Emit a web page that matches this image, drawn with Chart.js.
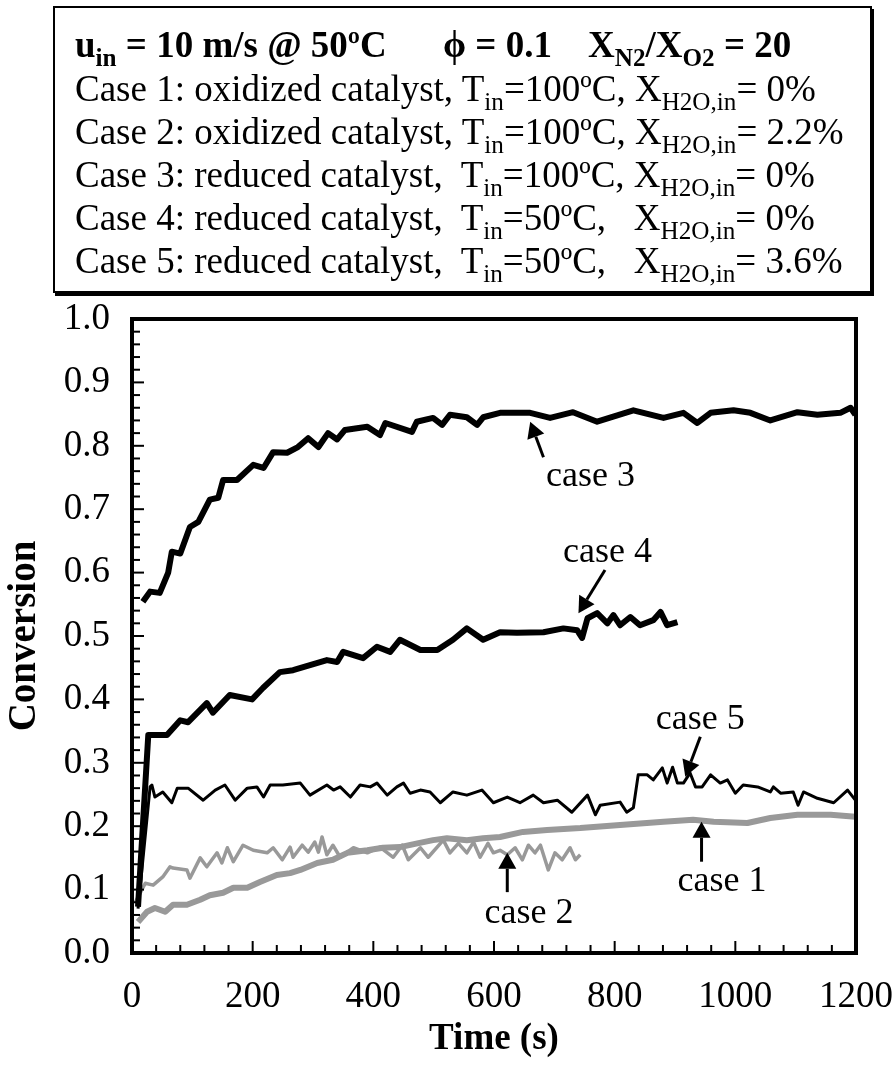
<!DOCTYPE html>
<html>
<head>
<meta charset="utf-8">
<script src="https://cdn.jsdelivr.net/npm/chart.js@4/dist/chart.umd.min.js"></script>
<style>
  body { margin: 0; background: #fff; width: 895px; height: 1066px; overflow: hidden; position: relative;
         font-family: "Liberation Serif", "Times New Roman", serif; }
  #wrap { position: absolute; left: 0; top: 0; width: 895px; height: 1066px; }
  #box { position: absolute; left: 53px; top: 6px; width: 815px; height: 283px; border: 2px solid #000;
         box-shadow: 2px 3px 0 #000; background: #fff; z-index: 2; }
  .ln { position: absolute; font-size: 37px; white-space: pre; line-height: 1; }
  sub { font-size: 0.68em; vertical-align: -0.34em; line-height: 0; }
</style>
</head>
<body>
<div id="box">
  <div class="ln" style="left:20px;top:18px"><b>u<sub>in</sub> = 10 m/s @ 50ºC</b></div>
  <div class="ln" style="left:388px;top:18px"><b>ϕ = 0.1</b></div>
  <div class="ln" style="left:533px;top:18px"><b>X<sub>N2</sub>/X<sub>O2</sub> = 20</b></div>
  <div class="ln" style="left:20px;top:62px">Case 1: oxidized catalyst, T<sub>in</sub>=100ºC, X<sub>H2O,in</sub>= 0%</div>
  <div class="ln" style="left:20px;top:105px">Case 2: oxidized catalyst, T<sub>in</sub>=100ºC, X<sub>H2O,in</sub>= 2.2%</div>
  <div class="ln" style="left:20px;top:148px">Case 3: reduced catalyst,  T<sub>in</sub>=100ºC, X<sub>H2O,in</sub>= 0%</div>
  <div class="ln" style="left:20px;top:191px">Case 4: reduced catalyst,  T<sub>in</sub>=50ºC,   X<sub>H2O,in</sub>= 0%</div>
  <div class="ln" style="left:20px;top:234px">Case 5: reduced catalyst,  T<sub>in</sub>=50ºC,   X<sub>H2O,in</sub>= 3.6%</div>
</div>
<div id="wrap"><canvas id="conv"></canvas></div>
<script>
// time (s) and conversion for each case
const case1Time = [10,25,38,55,68,91,113,129,151,168,191,212,240,262,279,307,333,357,390,416,444,473,499,522,555,582,610,648,688,743,809,881,930,964,1020,1058,1103,1158,1199];
const case1Conv = [0.049,0.065,0.071,0.065,0.076,0.076,0.084,0.091,0.095,0.103,0.103,0.112,0.123,0.126,0.131,0.142,0.147,0.158,0.162,0.166,0.167,0.173,0.178,0.181,0.178,0.181,0.183,0.191,0.194,0.197,0.202,0.207,0.21,0.207,0.205,0.213,0.218,0.218,0.215];

const case2Time = [5,22,35,51,63,68,91,96,113,124,141,149,158,168,184,201,224,234,249,262,267,282,292,303,309,315,323,333,345,367,390,411,433,448,458,478,491,516,527,541,555,566,577,590,599,610,622,635,647,657,668,677,690,701,713,726,735,743];
const case2Conv = [0.079,0.11,0.107,0.12,0.136,0.134,0.131,0.118,0.15,0.136,0.158,0.142,0.166,0.144,0.17,0.162,0.158,0.166,0.147,0.167,0.151,0.17,0.159,0.175,0.159,0.183,0.155,0.17,0.151,0.166,0.158,0.167,0.151,0.17,0.147,0.166,0.151,0.178,0.158,0.173,0.158,0.175,0.151,0.173,0.158,0.162,0.155,0.166,0.147,0.17,0.158,0.17,0.131,0.158,0.147,0.166,0.147,0.155];

const case3Time = [18,30,46,60,66,80,96,110,129,143,151,174,201,218,234,257,275,292,309,325,340,353,390,411,420,464,472,499,514,527,555,572,582,610,660,693,731,771,831,881,914,937,959,997,1025,1058,1103,1136,1174,1191,1199];
const case3Conv = [0.554,0.57,0.568,0.60,0.633,0.63,0.672,0.68,0.715,0.718,0.746,0.746,0.77,0.765,0.79,0.789,0.798,0.812,0.798,0.82,0.81,0.825,0.83,0.817,0.836,0.822,0.838,0.844,0.833,0.849,0.845,0.833,0.845,0.852,0.852,0.844,0.853,0.838,0.856,0.844,0.852,0.836,0.852,0.856,0.852,0.84,0.853,0.849,0.852,0.86,0.849];

const case4Time = [10,27,58,80,93,124,134,162,199,217,245,267,323,340,350,383,406,428,444,478,506,532,555,582,610,638,682,715,738,746,755,771,788,798,809,826,842,864,876,887,904];
const case4Conv = [0.073,0.344,0.344,0.367,0.364,0.394,0.379,0.407,0.40,0.418,0.443,0.446,0.462,0.459,0.475,0.465,0.483,0.475,0.494,0.478,0.478,0.494,0.512,0.494,0.506,0.505,0.506,0.512,0.509,0.497,0.528,0.536,0.52,0.533,0.517,0.53,0.517,0.525,0.538,0.517,0.522];

const case5Time = [10,30,33,38,51,66,75,93,118,138,154,171,191,207,218,229,250,279,295,323,334,345,362,378,395,406,423,439,450,461,478,494,511,532,555,580,599,622,643,665,682,705,729,755,768,776,809,820,831,839,854,864,879,887,896,904,914,925,934,945,959,975,987,1000,1013,1037,1058,1063,1075,1096,1104,1113,1136,1163,1186,1199];
const case5Conv = [0.07,0.262,0.265,0.246,0.254,0.237,0.26,0.26,0.241,0.257,0.265,0.241,0.26,0.262,0.246,0.265,0.265,0.268,0.249,0.265,0.257,0.262,0.246,0.265,0.262,0.268,0.249,0.262,0.268,0.252,0.257,0.254,0.237,0.254,0.249,0.257,0.237,0.246,0.237,0.249,0.237,0.241,0.222,0.249,0.218,0.233,0.238,0.222,0.229,0.281,0.281,0.273,0.292,0.268,0.293,0.268,0.268,0.284,0.262,0.262,0.281,0.268,0.273,0.252,0.265,0.262,0.254,0.262,0.252,0.254,0.233,0.254,0.244,0.237,0.257,0.241];

// "case n" call-outs: label centre, arrow tail, arrow head (time, conversion)
const callouts = [
  { text: 'case 3', at: [760, 0.752], from: [682, 0.782], to: [660, 0.838] },
  { text: 'case 4', at: [788, 0.632], from: [784, 0.604], to: [740, 0.536] },
  { text: 'case 5', at: [942, 0.368], from: [942, 0.341], to: [917, 0.278] },
  { text: 'case 1', at: [978, 0.113], from: [944, 0.144], to: [944, 0.207] },
  { text: 'case 2', at: [658, 0.062], from: [622, 0.096], to: [622, 0.158] }
];

const pts = (t, c) => t.map((v, i) => ({ x: v, y: c[i] }));
const GRAY = '#999999';
const SERIF = '"Liberation Serif", "Times New Roman", serif';

// frame and inward tick marks
const frame = {
  id: 'frame',
  afterDatasetsDraw(chart) {
    const { ctx, chartArea: a, scales: { x, y } } = chart;
    ctx.save();
    ctx.strokeStyle = '#000';
    ctx.lineWidth = 2;
    for (let v = 0; v <= 1200; v += 40) {
      const px = x.getPixelForValue(v);
      const len = v % 200 === 0 ? 12 : 8;
      ctx.beginPath(); ctx.moveTo(px, a.bottom); ctx.lineTo(px, a.bottom - len); ctx.stroke();
    }
    for (let i = 0; i <= 50; i++) {
      const py = y.getPixelForValue(i * 0.02);
      const len = i % 5 === 0 ? 12 : 8;
      ctx.beginPath(); ctx.moveTo(a.left, py); ctx.lineTo(a.left + len, py); ctx.stroke();
    }
    ctx.lineWidth = 4;
    ctx.strokeRect(a.left, a.top, a.width, a.height);
    ctx.restore();
  }
};

const arrows = {
  id: 'arrows',
  afterDraw(chart) {
    const { ctx, scales: { x, y } } = chart;
    ctx.save();
    ctx.fillStyle = '#000';
    ctx.strokeStyle = '#000';
    ctx.font = '36px ' + SERIF;
    ctx.textAlign = 'center';
    ctx.textBaseline = 'middle';
    callouts.forEach(c => {
      ctx.fillText(c.text, x.getPixelForValue(c.at[0]), y.getPixelForValue(c.at[1]));
      const x1 = x.getPixelForValue(c.from[0]), y1 = y.getPixelForValue(c.from[1]);
      const x2 = x.getPixelForValue(c.to[0]), y2 = y.getPixelForValue(c.to[1]);
      const ang = Math.atan2(y2 - y1, x2 - x1);
      const hl = 16, hw = 9;
      const bx = x2 - hl * Math.cos(ang), by = y2 - hl * Math.sin(ang);
      ctx.lineWidth = 3;
      ctx.beginPath(); ctx.moveTo(x1, y1); ctx.lineTo(bx, by); ctx.stroke();
      ctx.beginPath();
      ctx.moveTo(x2, y2);
      ctx.lineTo(bx + hw * Math.sin(ang), by - hw * Math.cos(ang));
      ctx.lineTo(bx - hw * Math.sin(ang), by + hw * Math.cos(ang));
      ctx.closePath(); ctx.fill();
    });
    ctx.restore();
  }
};

new Chart(document.getElementById('conv'), {
  type: 'line',
  data: {
    datasets: [
      { label: 'case 3', data: pts(case3Time, case3Conv), borderColor: '#000', borderWidth: 6 },
      { label: 'case 4', data: pts(case4Time, case4Conv), borderColor: '#000', borderWidth: 6 },
      { label: 'case 5', data: pts(case5Time, case5Conv), borderColor: '#000', borderWidth: 3 },
      { label: 'case 1', data: pts(case1Time, case1Conv), borderColor: GRAY, borderWidth: 6 },
      { label: 'case 2', data: pts(case2Time, case2Conv), borderColor: GRAY, borderWidth: 3.5 }
    ]
  },
  options: {
    responsive: true,
    maintainAspectRatio: false,
    animation: false,
    elements: { point: { radius: 0 }, line: { tension: 0, borderJoinStyle: 'round' } },
    layout: { padding: { left: 0, top: 319, right: 39, bottom: 0 } },
    plugins: { legend: { display: false }, tooltip: { enabled: false } },
    scales: {
      x: {
        type: 'linear', min: 0, max: 1200,
        afterFit: s => { s.height = 113; s.paddingLeft = 0; s.paddingRight = 0; },
        grid: { display: false, drawTicks: false },
        border: { display: false },
        ticks: { stepSize: 200, padding: 22, color: '#000', font: { family: SERIF, size: 37 },
                 callback: v => String(v) },
        title: { display: true, text: 'Time (s)', color: '#000', padding: { top: 0, bottom: 4 },
                 font: { family: SERIF, size: 37, weight: 'bold' } }
      },
      y: {
        min: 0, max: 1,
        afterFit: s => { s.width = 132; s.paddingTop = 0; s.paddingBottom = 0; },
        grid: { display: false, drawTicks: false },
        border: { display: false },
        ticks: { stepSize: 0.1, padding: 22, color: '#000', font: { family: SERIF, size: 37 },
                 callback: v => v.toFixed(1) },
        title: { display: true, text: 'Conversion', color: '#000', padding: { top: 2, bottom: 0 },
                 font: { family: SERIF, size: 39, weight: 'bold' } }
      }
    }
  },
  plugins: [frame, arrows]
});
</script>
</body>
</html>
